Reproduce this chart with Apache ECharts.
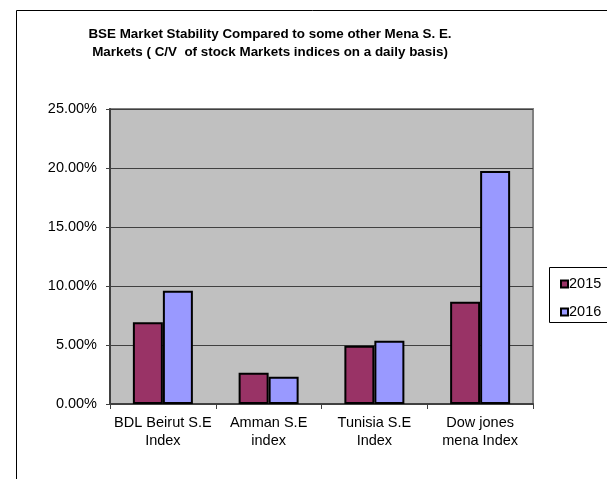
<!DOCTYPE html>
<html>
<head>
<meta charset="utf-8">
<script src="https://cdn.jsdelivr.net/npm/echarts@6/dist/echarts.min.js"></script>
<style>html,body{margin:0;padding:0;background:#fff}#c{width:607px;height:479px}</style>
</head>
<body>
<div id="c"></div>
<script>
const categories = ['BDL Beirut S.E\nIndex', 'Amman S.E\nindex', 'Tunisia S.E\nIndex', 'Dow jones\nmena Index'];
const series2015 = [0.0692, 0.0265, 0.0494, 0.0867];
const series2016 = [0.0960, 0.0231, 0.0536, 0.1975];
const seriesNames = ['2015', '2016'];
const titleText = 'BSE Market Stability Compared to some other Mena S. E.\nMarkets ( C/V  of stock Markets indices on a daily basis)';

const chart = echarts.init(document.getElementById('c'), null, {renderer: 'canvas'});
const font = 'Liberation Sans, Arial, sans-serif';
chart.setOption({
  animation: false,
  backgroundColor: '#fff',
  title: {
    text: titleText,
    left: 265, top: 20, textAlign: 'center',
    textStyle: {fontSize: 13.4, fontWeight: 'bold', fontFamily: font, color: '#000', lineHeight: 18, align: 'center'}
  },
  graphic: [
    {type: 'rect', shape: {x: 16.5, y: 10.5, width: 700, height: 600}, style: {fill: 'none', stroke: '#000', lineWidth: 1}, z: 0},
    {type: 'rect', shape: {x: 549.5, y: 267.5, width: 80, height: 55}, style: {fill: '#fff', stroke: '#000', lineWidth: 1}, z: 1}
  ],
  legend: {
    orient: 'vertical', left: 555, top: 271,
    itemWidth: 7, itemHeight: 7, itemGap: 12,
    icon: 'rect',
    textStyle: {fontSize: 14.5, fontFamily: font, color: '#000', lineHeight: 16, padding: [0,0,0,-4]},
    data: seriesNames, z: 5
  },
  grid: {
    left: 110, right: 74, top: 109, bottom: 75,
    show: true, backgroundColor: '#c0c0c0', borderColor: '#808080', borderWidth: 2
  },
  xAxis: {
    type: 'category', data: categories,
    axisLine: {lineStyle: {color: '#404040', width: 2}},
    axisTick: {show: true, length: 5, lineStyle: {color: '#404040', width: 1}},
    axisLabel: {fontSize: 14.5, fontFamily: font, color: '#000', lineHeight: 18, margin: 10, interval: 0}
  },
  yAxis: {
    type: 'value', min: 0, max: 0.25, interval: 0.05,
    axisLine: {show: true, lineStyle: {color: '#404040', width: 2}},
    axisTick: {show: true, length: 4, lineStyle: {color: '#404040', width: 1}},
    axisLabel: {fontSize: 14.5, fontFamily: font, color: '#000', margin: 13,
      formatter: v => (v * 100).toFixed(2) + '%'},
    splitLine: {lineStyle: {color: '#404040', width: 1}}
  },
  series: [
    {name: seriesNames[0], type: 'bar', data: series2015, barWidth: 30, barGap: '0%',
      itemStyle: {color: '#993366', borderColor: '#000', borderWidth: 2}},
    {name: seriesNames[1], type: 'bar', data: series2016, barWidth: 30, barGap: '0%',
      itemStyle: {color: '#9999ff', borderColor: '#000', borderWidth: 2}}
  ]
});
</script>
</body>
</html>
